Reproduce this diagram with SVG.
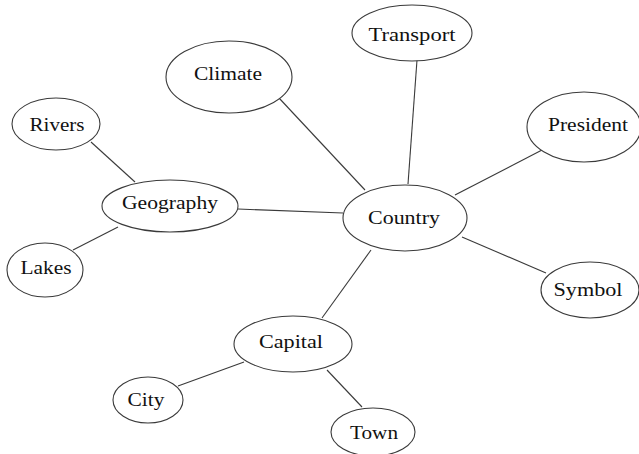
<svg xmlns="http://www.w3.org/2000/svg" width="639" height="454" viewBox="0 0 639 454">
<style>
.n ellipse{fill:#fff;stroke:#3a3a3a;stroke-width:1.1}
.n text{font-family:"Liberation Serif","Times New Roman",serif;font-size:19px;fill:#111;text-anchor:middle}
#edges line{stroke:#3a3a3a;stroke-width:1.1}
</style>
<rect width="639" height="454" fill="#fff"/>
<g id="edges">
<line x1="279" y1="98" x2="365" y2="190"/>
<line x1="417" y1="60" x2="408" y2="184"/>
<line x1="542" y1="150" x2="455" y2="195"/>
<line x1="238" y1="209" x2="343" y2="213"/>
<line x1="462" y1="237" x2="546" y2="273"/>
<line x1="371" y1="250" x2="322" y2="318"/>
<line x1="91" y1="142" x2="135" y2="182"/>
<line x1="73" y1="250" x2="118" y2="227"/>
<line x1="178" y1="386" x2="244" y2="362"/>
<line x1="327" y1="370" x2="362" y2="407"/>
</g>
<g id="climate" class="n"><ellipse cx="229" cy="77" rx="63" ry="36"/><text x="228" y="80" textLength="68" lengthAdjust="spacingAndGlyphs">Climate</text></g>
<g id="transport" class="n"><ellipse cx="412" cy="33" rx="60" ry="28"/><text x="412" y="41" textLength="87" lengthAdjust="spacingAndGlyphs">Transport</text></g>
<g id="president" class="n"><ellipse cx="584" cy="127" rx="57" ry="35"/><text x="588" y="131" textLength="80" lengthAdjust="spacingAndGlyphs">President</text></g>
<g id="rivers" class="n"><ellipse cx="56" cy="124" rx="44" ry="26"/><text x="57" y="131" textLength="55" lengthAdjust="spacingAndGlyphs">Rivers</text></g>
<g id="geography" class="n"><ellipse cx="170" cy="206" rx="68" ry="26"/><text x="170" y="209" textLength="96" lengthAdjust="spacingAndGlyphs">Geography</text></g>
<g id="country" class="n"><ellipse cx="405" cy="218" rx="62" ry="33"/><text x="404" y="224" textLength="72" lengthAdjust="spacingAndGlyphs">Country</text></g>
<g id="lakes" class="n"><ellipse cx="45" cy="270" rx="38" ry="27"/><text x="46" y="274" textLength="51" lengthAdjust="spacingAndGlyphs">Lakes</text></g>
<g id="symbol" class="n"><ellipse cx="590" cy="290" rx="49" ry="28"/><text x="588" y="296" textLength="69" lengthAdjust="spacingAndGlyphs">Symbol</text></g>
<g id="capital" class="n"><ellipse cx="293" cy="344" rx="59" ry="28"/><text x="291" y="348" textLength="64" lengthAdjust="spacingAndGlyphs">Capital</text></g>
<g id="city" class="n"><ellipse cx="148" cy="400" rx="35" ry="23"/><text x="146" y="406" textLength="37" lengthAdjust="spacingAndGlyphs">City</text></g>
<g id="town" class="n"><ellipse cx="373" cy="432" rx="42" ry="24"/><text x="374" y="439" textLength="48" lengthAdjust="spacingAndGlyphs">Town</text></g>
</svg>
